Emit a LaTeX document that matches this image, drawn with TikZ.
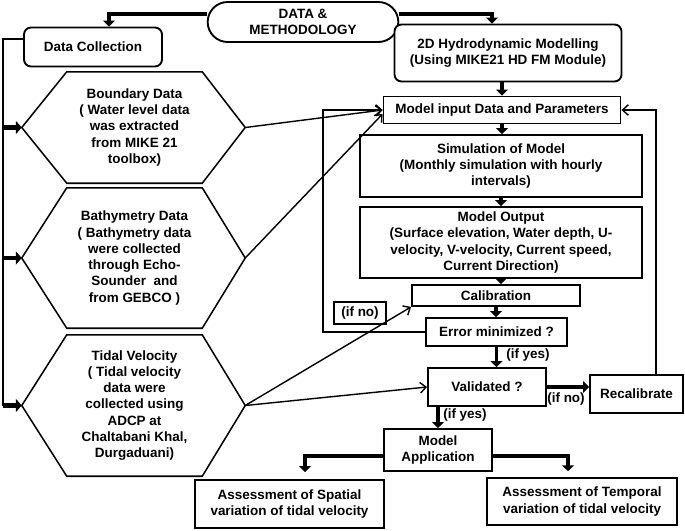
\documentclass[tikz,border=0pt]{standalone}
\usepackage{fontspec}
\setmainfont{Liberation Sans}
\usepackage{tikz}
\usetikzlibrary{positioning, arrows.meta, shapes.misc, calc}
\definecolor{LineColor}{RGB}{0,0,0}
\newcommand{\boxfont}{\bfseries\fontsize{11.5}{13.9}\selectfont}
\tikzstyle{fat} = [line width=2.6pt, LineColor, -{Triangle[length=5pt,width=10pt]}]
\tikzstyle{feed} = [line width=3.6pt, LineColor, -{Triangle[length=5pt,width=11pt]}]
\tikzstyle{link} = [line width=1.2pt, LineColor, -{Straight Barb[length=5pt,width=9pt]}]
\tikzset{
  block/.style={draw=LineColor, line width=1.6pt, fill=white, align=center, inner sep=1pt, font=\boxfont},
  roundblock/.style={block, rounded corners=6pt},
  pill/.style={block, rounded rectangle},
  hexbody/.style={align=center, inner sep=0pt, font=\boxfont},
  hexline/.style={draw=LineColor, line width=1.3pt},
  note/.style={inner sep=0pt, font=\boxfont}
}

\begin{document}
\begin{tikzpicture}[x=0.03cm, y=-0.03cm]
  \useasboundingbox (0,0) rectangle (685,530);

  % Top level
  \node[pill, minimum width=5.79cm, minimum height=1.2cm] (meth) at (303,22) {DATA \&\\METHODOLOGY};
  \node[roundblock, minimum width=4.14cm, minimum height=1.17cm] (coll) at (93,47) {Data Collection};
  \node[roundblock, minimum width=6.81cm, minimum height=1.71cm] (hydro) at (508,53) {2D Hydrodynamic Modelling\\(Using MIKE21 HD FM Module)};
  \draw[fat] ([yshift=0.24cm]meth.west) -| ([xshift=0.48cm]coll.north);
  \draw[fat] ([yshift=0.24cm]meth.east) -| ([xshift=-0.48cm]hydro.north);

  % Data sets
  \node[hexbody, minimum width=4.05cm, minimum height=3.33cm] (bnd) at (134.5,127.5) {Boundary Data\\( Water level data\\was extracted\\from MIKE 21\\toolbox)};
  \node[hexbody, minimum width=4.05cm, minimum height=4.2cm] (bat) at (134.5,258) {Bathymetry Data\\( Bathymetry data\\were collected\\through Echo-\\Sounder~ and\\from GEBCO )};
  \node[hexbody, minimum width=4.05cm, minimum height=4.23cm] (tid) at (134.5,405.5) {Tidal Velocity\\( Tidal velocity\\data were\\collected using\\ADCP at\\Chaltabani Khal,\\Durgaduani)};
  \foreach \h in {bnd,bat,tid}{
    \coordinate (\h-w) at ($(\h.west)+(-45,0)$);
    \coordinate (\h-e) at ($(\h.east)+(43,0)$);
    \draw[hexline] (\h.north west) -- (\h.north east) -- (\h-e) -- (\h.south east) -- (\h.south west) -- (\h-w) -- cycle;
  }

  % Spine on the left
  \coordinate (sp-top) at (3,39);
  \draw[LineColor, line width=2.4pt] (coll.west |- sp-top) -- (sp-top) -- (sp-top |- tid-w);
  \foreach \h in {bnd,bat,tid}
    \draw[feed] (sp-top |- \h-w) -- (\h-w);

  % Model chain
  \node[block, minimum width=7.11cm, minimum height=0.81cm] (input) at (502,110) {Model input Data and Parameters};
  \node[block, minimum width=8.46cm, minimum height=1.86cm] (sim) at (501,166) {Simulation of Model\\(Monthly simulation with hourly\\intervals)};
  \node[block, minimum width=8.46cm, minimum height=2.13cm] (output) at (501,242.5) {Model Output\\(Surface elevation, Water depth, U-\\velocity, V-velocity, Current speed,\\Current Direction)};
  \node[block, minimum width=5.04cm, minimum height=0.63cm] (calib) at (496,295.5) {Calibration};
  \node[block, minimum width=4.23cm, minimum height=0.84cm] (errmin) at (496.5,332) {Error minimized ?};
  \node[block, minimum width=1.56cm, minimum height=0.66cm] (ifno) at (360,313) {(if no)};
  \node[block, minimum width=3.54cm, minimum height=1.14cm] (valid) at (487,387) {Validated ?};
  \node[block, minimum width=2.79cm, minimum height=1.14cm] (recal) at (636.5,394) {Recalibrate};
  \node[block, minimum width=3.24cm, minimum height=1.26cm] (app) at (438,450) {Model\\Application};
  \node[block, minimum width=5.67cm, minimum height=1.44cm] (spatial) at (289.5,504) {Assessment of Spatial\\variation of tidal velocity};
  \node[block, minimum width=5.7cm, minimum height=1.41cm] (temporal) at (582,501.5) {Assessment of Temporal\\variation of tidal velocity};

  \draw[fat] (hydro.south -| input.north) -- (input.north);
  \foreach \a/\b in {input/sim, sim/output, output/calib, calib/errmin}
    \draw[fat] (\a.south) -- (\a.south |- \b.north);
  \draw[fat] (errmin.south) -- (errmin.south |- valid.north);
  \node[note] (yes1) at (528,355) {(if yes)};
  \draw[fat] (valid.east) -- (valid.east -| recal.west);
  \node[note] (no2) at (566,399) {(if no)};
  \draw[fat] (app.north |- valid.south) -- (app.north);
  \node[note] (yes2) at (465,415) {(if yes)};
  \draw[fat, shorten >=6pt] ([yshift=-0.18cm]app.west) -| ([xshift=0.465cm]spatial.north);
  \draw[fat, shorten >=5pt] ([yshift=-0.18cm]app.east) -| ([xshift=-0.42cm]temporal.north);

  % Feedback loops
  \coordinate (loop-l) at (323,110);
  \coordinate (loop-r) at (656,110);
  \draw[link] (errmin.west) -| (loop-l) -- (input.west);
  \draw[link] (recal.north -| loop-r) -- (loop-r) -- (input.east);

  % Data into the model
  \draw[link] (bnd-e) -- (input.west);
  \draw[link] (bat-e) -- ([yshift=-0.12cm]input.west);
  \draw[link] (tid-e) -- (calib.south west);
  \draw[link] (tid-e) -- (valid.west);
\end{tikzpicture}
\end{document}
